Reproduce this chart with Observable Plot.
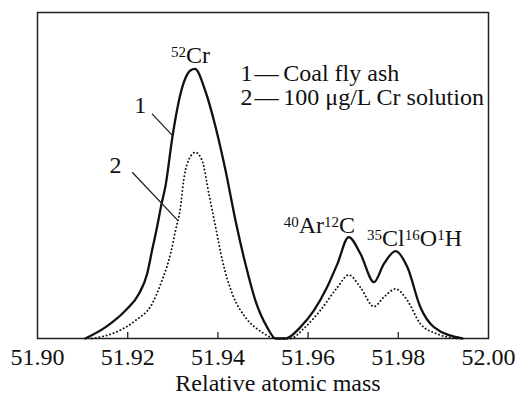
<!DOCTYPE html>
<html>
<head>
<meta charset="utf-8">
<script src="https://cdn.jsdelivr.net/npm/d3@7"></script>
<script src="https://cdn.jsdelivr.net/npm/@observablehq/plot@0.6"></script>
<style>
  html, body { margin: 0; padding: 0; background: #fff; }
</style>
</head>
<body>
<div id="chart"></div>
<script>
// Series 1: Coal fly ash (solid)
const coalMass = [51.9106, 51.9151, 51.9195, 51.9225, 51.9243, 51.9254, 51.9265, 51.9275, 51.9284, 51.9299, 51.9317, 51.9339, 51.9349, 51.9372, 51.9395, 51.9417, 51.9439, 51.9461, 51.9483, 51.9509, 51.9528, 51.9550, 51.9583, 51.9613, 51.9642, 51.9665, 51.9690, 51.9716, 51.9746, 51.9768, 51.9794, 51.9820, 51.9849, 51.9879, 51.9942];
const coalSignal = [0, 3.5, 8.6, 13.7, 19.8, 27, 34.1, 41.3, 46.9, 61.7, 75, 82.2, 82.7, 76, 64.8, 51.5, 36.2, 22.9, 11.7, 3.5, 0, 0, 3.5, 8.6, 15.7, 22.9, 31.1, 26, 17.3, 22.9, 26.8, 21.9, 9.6, 3.5, 0];

// Series 2: 100 ug/L Cr solution (dotted)
const solMass = [51.9121, 51.9173, 51.9217, 51.9254, 51.9276, 51.9295, 51.9306, 51.9317, 51.9324, 51.9332, 51.9350, 51.9365, 51.9380, 51.9395, 51.9410, 51.9432, 51.9461, 51.9498, 51.9517, 51.9535, 51.9561, 51.9590, 51.9627, 51.9665, 51.9690, 51.9716, 51.9746, 51.9768, 51.9794, 51.9820, 51.9849, 51.9886, 51.9931];
const solSignal = [0, 1.9, 5.5, 10.6, 17.8, 26, 33.1, 40.3, 48.5, 53.6, 57.1, 54.6, 44.4, 34.1, 23.9, 13.7, 6.5, 1.9, 0.4, 0, 0, 3, 8.6, 15.7, 19.5, 15.7, 9.8, 12.7, 15.2, 11.7, 4.5, 1.4, 0];

// Tick values
const tickValues = [51.90, 51.92, 51.94, 51.96, 51.98, 52.00];
const innerTicks = [51.92, 51.94, 51.96, 51.98];

// Peak labels (^ marks superscript digits)
const peakLabels = ["^52Cr", "^40Ar^12C", "^35Cl^16O^1H"];
const peakLabelMass = [51.9339, 51.9625, 51.9836];
const peakLabelSignal = [86.8, 34.7, 30.6];

// Curve number labels and leader lines
const curveIds = ["1", "2"];
const curveIdMass = [51.9228, 51.9173];
const curveIdSignal = [71.5, 53.1];
const leaderMass1 = [51.9254, 51.9210];
const leaderSignal1 = [68.9, 51.0];
const leaderMass2 = [51.9299, 51.9310];
const leaderSignal2 = [62.3, 36.4];

// Legend entries
const legendText = ["1\u200A\u2014\u2009Coal fly ash", "2\u200A\u2014\u2009100 \u03bcg/L Cr solution"];
const legendMass = [51.9450, 51.9450];
const legendSignal = [81.3, 73.9];

const xTitle = "Relative atomic mass";

const coal = coalMass.map((m, i) => ({mass: m, signal: coalSignal[i]}));
const sol = solMass.map((m, i) => ({mass: m, signal: solSignal[i]}));
const peaks = peakLabels.map((t, i) => ({t, x: peakLabelMass[i], y: peakLabelSignal[i]}));
const ids = curveIds.map((t, i) => ({t, x: curveIdMass[i], y: curveIdSignal[i]}));
const leaders = curveIds.map((t, i) => ({x1: leaderMass1[i], y1: leaderSignal1[i], x2: leaderMass2[i], y2: leaderSignal2[i]}));
const legend = legendText.map((t, i) => ({t, x: legendMass[i], y: legendSignal[i]}));

const chart = Plot.plot({
  width: 518,
  height: 397,
  marginLeft: 37,
  marginRight: 30,
  marginTop: 12,
  marginBottom: 59,
  style: {fontFamily: "'Liberation Serif', 'Times New Roman', serif", fontSize: "24px", background: "#fff", color: "#111", overflow: "visible"},
  x: {domain: [51.90, 52.00]},
  y: {domain: [0, 100], axis: null},
  marks: [
    Plot.frame({stroke: "#222", strokeWidth: 1.5}),
    Plot.axisX(innerTicks, {tickSize: -6, tickFormat: () => "", strokeWidth: 1.3, stroke: "#222"}),
    Plot.axisX(tickValues, {tickSize: 0, tickPadding: 9, tickFormat: d3.format(".2f"), fontSize: 24, label: null}),
    Plot.text([xTitle], {frameAnchor: "bottom", dy: 52, dx: 15, fontSize: 24}),
    Plot.line(sol, {x: "mass", y: "signal", curve: "monotone-x", stroke: "#111", strokeWidth: 1.9, strokeDasharray: "0.1 3.6", strokeLinecap: "round"}),
    Plot.line(coal, {x: "mass", y: "signal", curve: "monotone-x", stroke: "#111", strokeWidth: 2.3}),
    Plot.link(leaders, {x1: "x1", y1: "y1", x2: "x2", y2: "y2", stroke: "#222", strokeWidth: 1.3}),
    Plot.text(ids, {x: "x", y: "y", text: "t", fontSize: 24}),
    Plot.text(peaks, {x: "x", y: "y", text: "t", fontSize: 24, className: "peak-label"}),
    Plot.text(legend, {x: "x", y: "y", text: "t", textAnchor: "start", fontSize: 24})
  ]
});

// Render superscript isotope numbers
d3.select(chart).selectAll(".peak-label text").each(function() {
  const raw = this.textContent;
  const parts = raw.match(/\^\d+|[^\^]+/g);
  const sel = d3.select(this);
  sel.text(null);
  parts.forEach(p => {
    if (p.startsWith("^")) {
      sel.append("tspan").attr("baseline-shift", "38%").attr("font-size", "15px").text(p.slice(1));
    } else {
      sel.append("tspan").text(p);
    }
  });
});

document.getElementById("chart").appendChild(chart);
</script>
</body>
</html>
